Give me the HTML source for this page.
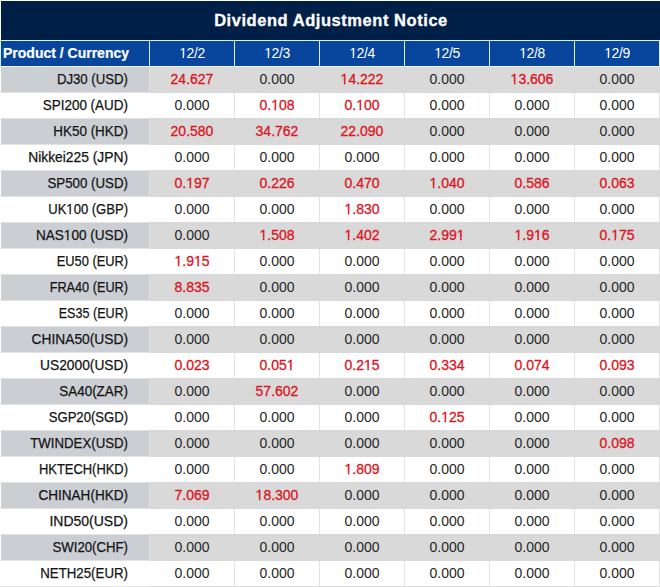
<!DOCTYPE html>
<html><head><meta charset="utf-8"><style>
html,body{margin:0;padding:0;}
body{width:660px;height:587px;position:relative;overflow:hidden;background:#fff;font-family:"Liberation Sans",sans-serif;}
.b{position:absolute;}
.t{position:absolute;white-space:nowrap;}
.title{color:#fff;font-weight:bold;font-size:16.5px;letter-spacing:0.55px;-webkit-text-stroke:0.3px #fff;text-align:center;}
.hdr0{color:#fff;font-weight:bold;font-size:14px;-webkit-text-stroke:0.2px #fff;}
.hdr{color:#fff;font-size:14px;letter-spacing:-0.4px;text-align:center;}
.c0{color:#141414;font-size:14px;text-align:right;transform-origin:100% 50%;-webkit-text-stroke:0.25px #141414;}
.c{color:#262626;font-size:14px;text-align:center;}
.o{display:inline-block;line-height:1em;clip-path:polygon(0 0,100% 0,100% 0.70em,0.35em 0.70em,0.35em 100%,0.24em 100%,0.24em 0.70em,0 0.70em);}
.red{color:#dc141e;-webkit-text-stroke:0.3px #dc141e;}
</style></head><body>
<div class="b" style="left:1px;top:1px;width:659px;height:39px;background:#001f47;"></div>
<div class="t title" style="left:1px;top:1px;width:660px;height:39px;line-height:39px;">Dividend Adjustment Notice</div>
<div class="b" style="left:0px;top:40px;width:660px;height:1px;background:#dbefff;"></div>
<div class="b" style="left:0px;top:41px;width:1px;height:25px;background:#dbefff;"></div>
<div class="b" style="left:149px;top:41px;width:1px;height:25px;background:#dbefff;"></div>
<div class="b" style="left:234px;top:41px;width:1px;height:25px;background:#dbefff;"></div>
<div class="b" style="left:319px;top:41px;width:1px;height:25px;background:#dbefff;"></div>
<div class="b" style="left:404px;top:41px;width:1px;height:25px;background:#dbefff;"></div>
<div class="b" style="left:489px;top:41px;width:1px;height:25px;background:#dbefff;"></div>
<div class="b" style="left:574px;top:41px;width:1px;height:25px;background:#dbefff;"></div>
<div class="b" style="left:659px;top:41px;width:1px;height:25px;background:#dbefff;"></div>
<div class="b" style="left:0px;top:66px;width:660px;height:1px;background:#eef4f8;"></div>
<div class="b" style="left:1px;top:41px;width:148px;height:25px;background:#07469c;"></div>
<div class="b" style="left:150px;top:41px;width:84px;height:25px;background:#07469c;"></div>
<div class="b" style="left:235px;top:41px;width:84px;height:25px;background:#07469c;"></div>
<div class="b" style="left:320px;top:41px;width:84px;height:25px;background:#07469c;"></div>
<div class="b" style="left:405px;top:41px;width:84px;height:25px;background:#07469c;"></div>
<div class="b" style="left:490px;top:41px;width:84px;height:25px;background:#07469c;"></div>
<div class="b" style="left:575px;top:41px;width:84px;height:25px;background:#07469c;"></div>
<div class="t hdr0" style="left:3px;top:41px;height:25px;line-height:25px;">Product / Currency</div>
<div class="t hdr" style="left:150px;top:41px;width:84px;height:25px;line-height:25px;"><span class="o">1</span>2/2</div>
<div class="t hdr" style="left:235px;top:41px;width:84px;height:25px;line-height:25px;"><span class="o">1</span>2/3</div>
<div class="t hdr" style="left:320px;top:41px;width:84px;height:25px;line-height:25px;"><span class="o">1</span>2/4</div>
<div class="t hdr" style="left:405px;top:41px;width:84px;height:25px;line-height:25px;"><span class="o">1</span>2/5</div>
<div class="t hdr" style="left:490px;top:41px;width:84px;height:25px;line-height:25px;"><span class="o">1</span>2/8</div>
<div class="t hdr" style="left:575px;top:41px;width:84px;height:25px;line-height:25px;"><span class="o">1</span>2/9</div>
<div class="b" style="left:149px;top:67px;width:511px;height:26px;background:#d9d9d9;"></div>
<div class="b" style="left:1px;top:67px;width:148px;height:25px;background:#cbcfd4;"></div>
<div class="b" style="left:0px;top:92px;width:149px;height:1px;background:#e3e3e3;"></div>
<div class="b" style="left:149px;top:67px;width:1px;height:25px;background:#dedede;"></div>
<div class="t c0" style="left:0;top:67px;width:128px;height:25px;line-height:25px;transform:scaleX(0.9419);">DJ30 (USD)</div>
<div class="t c red" style="left:150px;top:67px;width:84px;height:25px;line-height:25px;">24.627</div>
<div class="t c" style="left:235px;top:67px;width:84px;height:25px;line-height:25px;">0.000</div>
<div class="t c red" style="left:320px;top:67px;width:84px;height:25px;line-height:25px;"><span class="o">1</span>4.222</div>
<div class="t c" style="left:405px;top:67px;width:84px;height:25px;line-height:25px;">0.000</div>
<div class="t c red" style="left:490px;top:67px;width:84px;height:25px;line-height:25px;"><span class="o">1</span>3.606</div>
<div class="t c" style="left:575px;top:67px;width:84px;height:25px;line-height:25px;">0.000</div>
<div class="b" style="left:0px;top:118px;width:149px;height:1px;background:#e3e3e3;"></div>
<div class="b" style="left:149px;top:118px;width:511px;height:1px;background:#dcdcdc;"></div>
<div class="b" style="left:234px;top:93px;width:1px;height:25px;background:#e2e2e2;"></div>
<div class="b" style="left:319px;top:93px;width:1px;height:25px;background:#e2e2e2;"></div>
<div class="b" style="left:404px;top:93px;width:1px;height:25px;background:#e2e2e2;"></div>
<div class="b" style="left:489px;top:93px;width:1px;height:25px;background:#e2e2e2;"></div>
<div class="b" style="left:574px;top:93px;width:1px;height:25px;background:#e2e2e2;"></div>
<div class="b" style="left:659px;top:93px;width:1px;height:25px;background:#e2e2e2;"></div>
<div class="t c0" style="left:0;top:93px;width:128px;height:25px;line-height:25px;transform:scaleX(0.9616);">SPI200 (AUD)</div>
<div class="t c" style="left:150px;top:93px;width:84px;height:25px;line-height:25px;">0.000</div>
<div class="t c red" style="left:235px;top:93px;width:84px;height:25px;line-height:25px;">0.<span class="o">1</span>08</div>
<div class="t c red" style="left:320px;top:93px;width:84px;height:25px;line-height:25px;">0.<span class="o">1</span>00</div>
<div class="t c" style="left:405px;top:93px;width:84px;height:25px;line-height:25px;">0.000</div>
<div class="t c" style="left:490px;top:93px;width:84px;height:25px;line-height:25px;">0.000</div>
<div class="t c" style="left:575px;top:93px;width:84px;height:25px;line-height:25px;">0.000</div>
<div class="b" style="left:149px;top:118px;width:511px;height:27px;background:#d9d9d9;"></div>
<div class="b" style="left:1px;top:119px;width:148px;height:25px;background:#cbcfd4;"></div>
<div class="b" style="left:0px;top:144px;width:149px;height:1px;background:#e3e3e3;"></div>
<div class="b" style="left:149px;top:119px;width:1px;height:25px;background:#dedede;"></div>
<div class="t c0" style="left:0;top:119px;width:128px;height:25px;line-height:25px;transform:scaleX(0.961);">HK50 (HKD)</div>
<div class="t c red" style="left:150px;top:119px;width:84px;height:25px;line-height:25px;">20.580</div>
<div class="t c red" style="left:235px;top:119px;width:84px;height:25px;line-height:25px;">34.762</div>
<div class="t c red" style="left:320px;top:119px;width:84px;height:25px;line-height:25px;">22.090</div>
<div class="t c" style="left:405px;top:119px;width:84px;height:25px;line-height:25px;">0.000</div>
<div class="t c" style="left:490px;top:119px;width:84px;height:25px;line-height:25px;">0.000</div>
<div class="t c" style="left:575px;top:119px;width:84px;height:25px;line-height:25px;">0.000</div>
<div class="b" style="left:0px;top:170px;width:149px;height:1px;background:#e3e3e3;"></div>
<div class="b" style="left:149px;top:170px;width:511px;height:1px;background:#dcdcdc;"></div>
<div class="b" style="left:234px;top:145px;width:1px;height:25px;background:#e2e2e2;"></div>
<div class="b" style="left:319px;top:145px;width:1px;height:25px;background:#e2e2e2;"></div>
<div class="b" style="left:404px;top:145px;width:1px;height:25px;background:#e2e2e2;"></div>
<div class="b" style="left:489px;top:145px;width:1px;height:25px;background:#e2e2e2;"></div>
<div class="b" style="left:574px;top:145px;width:1px;height:25px;background:#e2e2e2;"></div>
<div class="b" style="left:659px;top:145px;width:1px;height:25px;background:#e2e2e2;"></div>
<div class="t c0" style="left:0;top:145px;width:128px;height:25px;line-height:25px;transform:scaleX(0.9861);">Nikkei225 (JPN)</div>
<div class="t c" style="left:150px;top:145px;width:84px;height:25px;line-height:25px;">0.000</div>
<div class="t c" style="left:235px;top:145px;width:84px;height:25px;line-height:25px;">0.000</div>
<div class="t c" style="left:320px;top:145px;width:84px;height:25px;line-height:25px;">0.000</div>
<div class="t c" style="left:405px;top:145px;width:84px;height:25px;line-height:25px;">0.000</div>
<div class="t c" style="left:490px;top:145px;width:84px;height:25px;line-height:25px;">0.000</div>
<div class="t c" style="left:575px;top:145px;width:84px;height:25px;line-height:25px;">0.000</div>
<div class="b" style="left:149px;top:170px;width:511px;height:27px;background:#d9d9d9;"></div>
<div class="b" style="left:1px;top:171px;width:148px;height:25px;background:#cbcfd4;"></div>
<div class="b" style="left:0px;top:196px;width:149px;height:1px;background:#e3e3e3;"></div>
<div class="b" style="left:149px;top:171px;width:1px;height:25px;background:#dedede;"></div>
<div class="t c0" style="left:0;top:171px;width:128px;height:25px;line-height:25px;transform:scaleX(0.9493);">SP500 (USD)</div>
<div class="t c red" style="left:150px;top:171px;width:84px;height:25px;line-height:25px;">0.<span class="o">1</span>97</div>
<div class="t c red" style="left:235px;top:171px;width:84px;height:25px;line-height:25px;">0.226</div>
<div class="t c red" style="left:320px;top:171px;width:84px;height:25px;line-height:25px;">0.470</div>
<div class="t c red" style="left:405px;top:171px;width:84px;height:25px;line-height:25px;"><span class="o">1</span>.040</div>
<div class="t c red" style="left:490px;top:171px;width:84px;height:25px;line-height:25px;">0.586</div>
<div class="t c red" style="left:575px;top:171px;width:84px;height:25px;line-height:25px;">0.063</div>
<div class="b" style="left:0px;top:222px;width:149px;height:1px;background:#e3e3e3;"></div>
<div class="b" style="left:149px;top:222px;width:511px;height:1px;background:#dcdcdc;"></div>
<div class="b" style="left:234px;top:197px;width:1px;height:25px;background:#e2e2e2;"></div>
<div class="b" style="left:319px;top:197px;width:1px;height:25px;background:#e2e2e2;"></div>
<div class="b" style="left:404px;top:197px;width:1px;height:25px;background:#e2e2e2;"></div>
<div class="b" style="left:489px;top:197px;width:1px;height:25px;background:#e2e2e2;"></div>
<div class="b" style="left:574px;top:197px;width:1px;height:25px;background:#e2e2e2;"></div>
<div class="b" style="left:659px;top:197px;width:1px;height:25px;background:#e2e2e2;"></div>
<div class="t c0" style="left:0;top:197px;width:128px;height:25px;line-height:25px;transform:scaleX(0.9316);">UK<span class="o">1</span>00 (GBP)</div>
<div class="t c" style="left:150px;top:197px;width:84px;height:25px;line-height:25px;">0.000</div>
<div class="t c" style="left:235px;top:197px;width:84px;height:25px;line-height:25px;">0.000</div>
<div class="t c red" style="left:320px;top:197px;width:84px;height:25px;line-height:25px;"><span class="o">1</span>.830</div>
<div class="t c" style="left:405px;top:197px;width:84px;height:25px;line-height:25px;">0.000</div>
<div class="t c" style="left:490px;top:197px;width:84px;height:25px;line-height:25px;">0.000</div>
<div class="t c" style="left:575px;top:197px;width:84px;height:25px;line-height:25px;">0.000</div>
<div class="b" style="left:149px;top:222px;width:511px;height:27px;background:#d9d9d9;"></div>
<div class="b" style="left:1px;top:223px;width:148px;height:25px;background:#cbcfd4;"></div>
<div class="b" style="left:0px;top:248px;width:149px;height:1px;background:#e3e3e3;"></div>
<div class="b" style="left:149px;top:223px;width:1px;height:25px;background:#dedede;"></div>
<div class="t c0" style="left:0;top:223px;width:128px;height:25px;line-height:25px;transform:scaleX(0.9693);">NAS<span class="o">1</span>00 (USD)</div>
<div class="t c" style="left:150px;top:223px;width:84px;height:25px;line-height:25px;">0.000</div>
<div class="t c red" style="left:235px;top:223px;width:84px;height:25px;line-height:25px;"><span class="o">1</span>.508</div>
<div class="t c red" style="left:320px;top:223px;width:84px;height:25px;line-height:25px;"><span class="o">1</span>.402</div>
<div class="t c red" style="left:405px;top:223px;width:84px;height:25px;line-height:25px;">2.99<span class="o">1</span></div>
<div class="t c red" style="left:490px;top:223px;width:84px;height:25px;line-height:25px;"><span class="o">1</span>.9<span class="o">1</span>6</div>
<div class="t c red" style="left:575px;top:223px;width:84px;height:25px;line-height:25px;">0.<span class="o">1</span>75</div>
<div class="b" style="left:0px;top:274px;width:149px;height:1px;background:#e3e3e3;"></div>
<div class="b" style="left:149px;top:274px;width:511px;height:1px;background:#dcdcdc;"></div>
<div class="b" style="left:234px;top:249px;width:1px;height:25px;background:#e2e2e2;"></div>
<div class="b" style="left:319px;top:249px;width:1px;height:25px;background:#e2e2e2;"></div>
<div class="b" style="left:404px;top:249px;width:1px;height:25px;background:#e2e2e2;"></div>
<div class="b" style="left:489px;top:249px;width:1px;height:25px;background:#e2e2e2;"></div>
<div class="b" style="left:574px;top:249px;width:1px;height:25px;background:#e2e2e2;"></div>
<div class="b" style="left:659px;top:249px;width:1px;height:25px;background:#e2e2e2;"></div>
<div class="t c0" style="left:0;top:249px;width:128px;height:25px;line-height:25px;transform:scaleX(0.9161);">EU50 (EUR)</div>
<div class="t c red" style="left:150px;top:249px;width:84px;height:25px;line-height:25px;"><span class="o">1</span>.9<span class="o">1</span>5</div>
<div class="t c" style="left:235px;top:249px;width:84px;height:25px;line-height:25px;">0.000</div>
<div class="t c" style="left:320px;top:249px;width:84px;height:25px;line-height:25px;">0.000</div>
<div class="t c" style="left:405px;top:249px;width:84px;height:25px;line-height:25px;">0.000</div>
<div class="t c" style="left:490px;top:249px;width:84px;height:25px;line-height:25px;">0.000</div>
<div class="t c" style="left:575px;top:249px;width:84px;height:25px;line-height:25px;">0.000</div>
<div class="b" style="left:149px;top:274px;width:511px;height:27px;background:#d9d9d9;"></div>
<div class="b" style="left:1px;top:275px;width:148px;height:25px;background:#cbcfd4;"></div>
<div class="b" style="left:0px;top:300px;width:149px;height:1px;background:#e3e3e3;"></div>
<div class="b" style="left:149px;top:275px;width:1px;height:25px;background:#dedede;"></div>
<div class="t c0" style="left:0;top:275px;width:128px;height:25px;line-height:25px;transform:scaleX(0.9073);">FRA40 (EUR)</div>
<div class="t c red" style="left:150px;top:275px;width:84px;height:25px;line-height:25px;">8.835</div>
<div class="t c" style="left:235px;top:275px;width:84px;height:25px;line-height:25px;">0.000</div>
<div class="t c" style="left:320px;top:275px;width:84px;height:25px;line-height:25px;">0.000</div>
<div class="t c" style="left:405px;top:275px;width:84px;height:25px;line-height:25px;">0.000</div>
<div class="t c" style="left:490px;top:275px;width:84px;height:25px;line-height:25px;">0.000</div>
<div class="t c" style="left:575px;top:275px;width:84px;height:25px;line-height:25px;">0.000</div>
<div class="b" style="left:0px;top:326px;width:149px;height:1px;background:#e3e3e3;"></div>
<div class="b" style="left:149px;top:326px;width:511px;height:1px;background:#dcdcdc;"></div>
<div class="b" style="left:234px;top:301px;width:1px;height:25px;background:#e2e2e2;"></div>
<div class="b" style="left:319px;top:301px;width:1px;height:25px;background:#e2e2e2;"></div>
<div class="b" style="left:404px;top:301px;width:1px;height:25px;background:#e2e2e2;"></div>
<div class="b" style="left:489px;top:301px;width:1px;height:25px;background:#e2e2e2;"></div>
<div class="b" style="left:574px;top:301px;width:1px;height:25px;background:#e2e2e2;"></div>
<div class="b" style="left:659px;top:301px;width:1px;height:25px;background:#e2e2e2;"></div>
<div class="t c0" style="left:0;top:301px;width:128px;height:25px;line-height:25px;transform:scaleX(0.8993);">ES35 (EUR)</div>
<div class="t c" style="left:150px;top:301px;width:84px;height:25px;line-height:25px;">0.000</div>
<div class="t c" style="left:235px;top:301px;width:84px;height:25px;line-height:25px;">0.000</div>
<div class="t c" style="left:320px;top:301px;width:84px;height:25px;line-height:25px;">0.000</div>
<div class="t c" style="left:405px;top:301px;width:84px;height:25px;line-height:25px;">0.000</div>
<div class="t c" style="left:490px;top:301px;width:84px;height:25px;line-height:25px;">0.000</div>
<div class="t c" style="left:575px;top:301px;width:84px;height:25px;line-height:25px;">0.000</div>
<div class="b" style="left:149px;top:326px;width:511px;height:27px;background:#d9d9d9;"></div>
<div class="b" style="left:1px;top:327px;width:148px;height:25px;background:#cbcfd4;"></div>
<div class="b" style="left:0px;top:352px;width:149px;height:1px;background:#e3e3e3;"></div>
<div class="b" style="left:149px;top:327px;width:1px;height:25px;background:#dedede;"></div>
<div class="t c0" style="left:0;top:327px;width:128px;height:25px;line-height:25px;transform:scaleX(0.9837);">CHINA50(USD)</div>
<div class="t c" style="left:150px;top:327px;width:84px;height:25px;line-height:25px;">0.000</div>
<div class="t c" style="left:235px;top:327px;width:84px;height:25px;line-height:25px;">0.000</div>
<div class="t c" style="left:320px;top:327px;width:84px;height:25px;line-height:25px;">0.000</div>
<div class="t c" style="left:405px;top:327px;width:84px;height:25px;line-height:25px;">0.000</div>
<div class="t c" style="left:490px;top:327px;width:84px;height:25px;line-height:25px;">0.000</div>
<div class="t c" style="left:575px;top:327px;width:84px;height:25px;line-height:25px;">0.000</div>
<div class="b" style="left:0px;top:378px;width:149px;height:1px;background:#e3e3e3;"></div>
<div class="b" style="left:149px;top:378px;width:511px;height:1px;background:#dcdcdc;"></div>
<div class="b" style="left:234px;top:353px;width:1px;height:25px;background:#e2e2e2;"></div>
<div class="b" style="left:319px;top:353px;width:1px;height:25px;background:#e2e2e2;"></div>
<div class="b" style="left:404px;top:353px;width:1px;height:25px;background:#e2e2e2;"></div>
<div class="b" style="left:489px;top:353px;width:1px;height:25px;background:#e2e2e2;"></div>
<div class="b" style="left:574px;top:353px;width:1px;height:25px;background:#e2e2e2;"></div>
<div class="b" style="left:659px;top:353px;width:1px;height:25px;background:#e2e2e2;"></div>
<div class="t c0" style="left:0;top:353px;width:128px;height:25px;line-height:25px;transform:scaleX(0.9822);">US2000(USD)</div>
<div class="t c red" style="left:150px;top:353px;width:84px;height:25px;line-height:25px;">0.023</div>
<div class="t c red" style="left:235px;top:353px;width:84px;height:25px;line-height:25px;">0.05<span class="o">1</span></div>
<div class="t c red" style="left:320px;top:353px;width:84px;height:25px;line-height:25px;">0.2<span class="o">1</span>5</div>
<div class="t c red" style="left:405px;top:353px;width:84px;height:25px;line-height:25px;">0.334</div>
<div class="t c red" style="left:490px;top:353px;width:84px;height:25px;line-height:25px;">0.074</div>
<div class="t c red" style="left:575px;top:353px;width:84px;height:25px;line-height:25px;">0.093</div>
<div class="b" style="left:149px;top:378px;width:511px;height:27px;background:#d9d9d9;"></div>
<div class="b" style="left:1px;top:379px;width:148px;height:25px;background:#cbcfd4;"></div>
<div class="b" style="left:0px;top:404px;width:149px;height:1px;background:#e3e3e3;"></div>
<div class="b" style="left:149px;top:379px;width:1px;height:25px;background:#dedede;"></div>
<div class="t c0" style="left:0;top:379px;width:128px;height:25px;line-height:25px;transform:scaleX(0.9607);">SA40(ZAR)</div>
<div class="t c" style="left:150px;top:379px;width:84px;height:25px;line-height:25px;">0.000</div>
<div class="t c red" style="left:235px;top:379px;width:84px;height:25px;line-height:25px;">57.602</div>
<div class="t c" style="left:320px;top:379px;width:84px;height:25px;line-height:25px;">0.000</div>
<div class="t c" style="left:405px;top:379px;width:84px;height:25px;line-height:25px;">0.000</div>
<div class="t c" style="left:490px;top:379px;width:84px;height:25px;line-height:25px;">0.000</div>
<div class="t c" style="left:575px;top:379px;width:84px;height:25px;line-height:25px;">0.000</div>
<div class="b" style="left:0px;top:430px;width:149px;height:1px;background:#e3e3e3;"></div>
<div class="b" style="left:149px;top:430px;width:511px;height:1px;background:#dcdcdc;"></div>
<div class="b" style="left:234px;top:405px;width:1px;height:25px;background:#e2e2e2;"></div>
<div class="b" style="left:319px;top:405px;width:1px;height:25px;background:#e2e2e2;"></div>
<div class="b" style="left:404px;top:405px;width:1px;height:25px;background:#e2e2e2;"></div>
<div class="b" style="left:489px;top:405px;width:1px;height:25px;background:#e2e2e2;"></div>
<div class="b" style="left:574px;top:405px;width:1px;height:25px;background:#e2e2e2;"></div>
<div class="b" style="left:659px;top:405px;width:1px;height:25px;background:#e2e2e2;"></div>
<div class="t c0" style="left:0;top:405px;width:128px;height:25px;line-height:25px;transform:scaleX(0.9348);">SGP20(SGD)</div>
<div class="t c" style="left:150px;top:405px;width:84px;height:25px;line-height:25px;">0.000</div>
<div class="t c" style="left:235px;top:405px;width:84px;height:25px;line-height:25px;">0.000</div>
<div class="t c" style="left:320px;top:405px;width:84px;height:25px;line-height:25px;">0.000</div>
<div class="t c red" style="left:405px;top:405px;width:84px;height:25px;line-height:25px;">0.<span class="o">1</span>25</div>
<div class="t c" style="left:490px;top:405px;width:84px;height:25px;line-height:25px;">0.000</div>
<div class="t c" style="left:575px;top:405px;width:84px;height:25px;line-height:25px;">0.000</div>
<div class="b" style="left:149px;top:430px;width:511px;height:27px;background:#d9d9d9;"></div>
<div class="b" style="left:1px;top:431px;width:148px;height:25px;background:#cbcfd4;"></div>
<div class="b" style="left:0px;top:456px;width:149px;height:1px;background:#e3e3e3;"></div>
<div class="b" style="left:149px;top:431px;width:1px;height:25px;background:#dedede;"></div>
<div class="t c0" style="left:0;top:431px;width:128px;height:25px;line-height:25px;transform:scaleX(0.9455);">TWINDEX(USD)</div>
<div class="t c" style="left:150px;top:431px;width:84px;height:25px;line-height:25px;">0.000</div>
<div class="t c" style="left:235px;top:431px;width:84px;height:25px;line-height:25px;">0.000</div>
<div class="t c" style="left:320px;top:431px;width:84px;height:25px;line-height:25px;">0.000</div>
<div class="t c" style="left:405px;top:431px;width:84px;height:25px;line-height:25px;">0.000</div>
<div class="t c" style="left:490px;top:431px;width:84px;height:25px;line-height:25px;">0.000</div>
<div class="t c red" style="left:575px;top:431px;width:84px;height:25px;line-height:25px;">0.098</div>
<div class="b" style="left:0px;top:482px;width:149px;height:1px;background:#e3e3e3;"></div>
<div class="b" style="left:149px;top:482px;width:511px;height:1px;background:#dcdcdc;"></div>
<div class="b" style="left:234px;top:457px;width:1px;height:25px;background:#e2e2e2;"></div>
<div class="b" style="left:319px;top:457px;width:1px;height:25px;background:#e2e2e2;"></div>
<div class="b" style="left:404px;top:457px;width:1px;height:25px;background:#e2e2e2;"></div>
<div class="b" style="left:489px;top:457px;width:1px;height:25px;background:#e2e2e2;"></div>
<div class="b" style="left:574px;top:457px;width:1px;height:25px;background:#e2e2e2;"></div>
<div class="b" style="left:659px;top:457px;width:1px;height:25px;background:#e2e2e2;"></div>
<div class="t c0" style="left:0;top:457px;width:128px;height:25px;line-height:25px;transform:scaleX(0.9236);">HKTECH(HKD)</div>
<div class="t c" style="left:150px;top:457px;width:84px;height:25px;line-height:25px;">0.000</div>
<div class="t c" style="left:235px;top:457px;width:84px;height:25px;line-height:25px;">0.000</div>
<div class="t c red" style="left:320px;top:457px;width:84px;height:25px;line-height:25px;"><span class="o">1</span>.809</div>
<div class="t c" style="left:405px;top:457px;width:84px;height:25px;line-height:25px;">0.000</div>
<div class="t c" style="left:490px;top:457px;width:84px;height:25px;line-height:25px;">0.000</div>
<div class="t c" style="left:575px;top:457px;width:84px;height:25px;line-height:25px;">0.000</div>
<div class="b" style="left:149px;top:482px;width:511px;height:27px;background:#d9d9d9;"></div>
<div class="b" style="left:1px;top:483px;width:148px;height:25px;background:#cbcfd4;"></div>
<div class="b" style="left:0px;top:508px;width:149px;height:1px;background:#e3e3e3;"></div>
<div class="b" style="left:149px;top:483px;width:1px;height:25px;background:#dedede;"></div>
<div class="t c0" style="left:0;top:483px;width:128px;height:25px;line-height:25px;transform:scaleX(0.9672);">CHINAH(HKD)</div>
<div class="t c red" style="left:150px;top:483px;width:84px;height:25px;line-height:25px;">7.069</div>
<div class="t c red" style="left:235px;top:483px;width:84px;height:25px;line-height:25px;"><span class="o">1</span>8.300</div>
<div class="t c" style="left:320px;top:483px;width:84px;height:25px;line-height:25px;">0.000</div>
<div class="t c" style="left:405px;top:483px;width:84px;height:25px;line-height:25px;">0.000</div>
<div class="t c" style="left:490px;top:483px;width:84px;height:25px;line-height:25px;">0.000</div>
<div class="t c" style="left:575px;top:483px;width:84px;height:25px;line-height:25px;">0.000</div>
<div class="b" style="left:0px;top:534px;width:149px;height:1px;background:#e3e3e3;"></div>
<div class="b" style="left:149px;top:534px;width:511px;height:1px;background:#dcdcdc;"></div>
<div class="b" style="left:234px;top:509px;width:1px;height:25px;background:#e2e2e2;"></div>
<div class="b" style="left:319px;top:509px;width:1px;height:25px;background:#e2e2e2;"></div>
<div class="b" style="left:404px;top:509px;width:1px;height:25px;background:#e2e2e2;"></div>
<div class="b" style="left:489px;top:509px;width:1px;height:25px;background:#e2e2e2;"></div>
<div class="b" style="left:574px;top:509px;width:1px;height:25px;background:#e2e2e2;"></div>
<div class="b" style="left:659px;top:509px;width:1px;height:25px;background:#e2e2e2;"></div>
<div class="t c0" style="left:0;top:509px;width:128px;height:25px;line-height:25px;transform:scaleX(1.0002);">IND50(USD)</div>
<div class="t c" style="left:150px;top:509px;width:84px;height:25px;line-height:25px;">0.000</div>
<div class="t c" style="left:235px;top:509px;width:84px;height:25px;line-height:25px;">0.000</div>
<div class="t c" style="left:320px;top:509px;width:84px;height:25px;line-height:25px;">0.000</div>
<div class="t c" style="left:405px;top:509px;width:84px;height:25px;line-height:25px;">0.000</div>
<div class="t c" style="left:490px;top:509px;width:84px;height:25px;line-height:25px;">0.000</div>
<div class="t c" style="left:575px;top:509px;width:84px;height:25px;line-height:25px;">0.000</div>
<div class="b" style="left:149px;top:534px;width:511px;height:27px;background:#d9d9d9;"></div>
<div class="b" style="left:1px;top:535px;width:148px;height:25px;background:#cbcfd4;"></div>
<div class="b" style="left:0px;top:560px;width:149px;height:1px;background:#e3e3e3;"></div>
<div class="b" style="left:149px;top:535px;width:1px;height:25px;background:#dedede;"></div>
<div class="t c0" style="left:0;top:535px;width:128px;height:25px;line-height:25px;transform:scaleX(0.9421);">SWI20(CHF)</div>
<div class="t c" style="left:150px;top:535px;width:84px;height:25px;line-height:25px;">0.000</div>
<div class="t c" style="left:235px;top:535px;width:84px;height:25px;line-height:25px;">0.000</div>
<div class="t c" style="left:320px;top:535px;width:84px;height:25px;line-height:25px;">0.000</div>
<div class="t c" style="left:405px;top:535px;width:84px;height:25px;line-height:25px;">0.000</div>
<div class="t c" style="left:490px;top:535px;width:84px;height:25px;line-height:25px;">0.000</div>
<div class="t c" style="left:575px;top:535px;width:84px;height:25px;line-height:25px;">0.000</div>
<div class="b" style="left:0px;top:586px;width:149px;height:1px;background:#e3e3e3;"></div>
<div class="b" style="left:149px;top:586px;width:511px;height:1px;background:#dcdcdc;"></div>
<div class="b" style="left:234px;top:561px;width:1px;height:25px;background:#e2e2e2;"></div>
<div class="b" style="left:319px;top:561px;width:1px;height:25px;background:#e2e2e2;"></div>
<div class="b" style="left:404px;top:561px;width:1px;height:25px;background:#e2e2e2;"></div>
<div class="b" style="left:489px;top:561px;width:1px;height:25px;background:#e2e2e2;"></div>
<div class="b" style="left:574px;top:561px;width:1px;height:25px;background:#e2e2e2;"></div>
<div class="b" style="left:659px;top:561px;width:1px;height:25px;background:#e2e2e2;"></div>
<div class="t c0" style="left:0;top:561px;width:128px;height:25px;line-height:25px;transform:scaleX(0.9484);">NETH25(EUR)</div>
<div class="t c" style="left:150px;top:561px;width:84px;height:25px;line-height:25px;">0.000</div>
<div class="t c" style="left:235px;top:561px;width:84px;height:25px;line-height:25px;">0.000</div>
<div class="t c" style="left:320px;top:561px;width:84px;height:25px;line-height:25px;">0.000</div>
<div class="t c" style="left:405px;top:561px;width:84px;height:25px;line-height:25px;">0.000</div>
<div class="t c" style="left:490px;top:561px;width:84px;height:25px;line-height:25px;">0.000</div>
<div class="t c" style="left:575px;top:561px;width:84px;height:25px;line-height:25px;">0.000</div>
</body></html>
